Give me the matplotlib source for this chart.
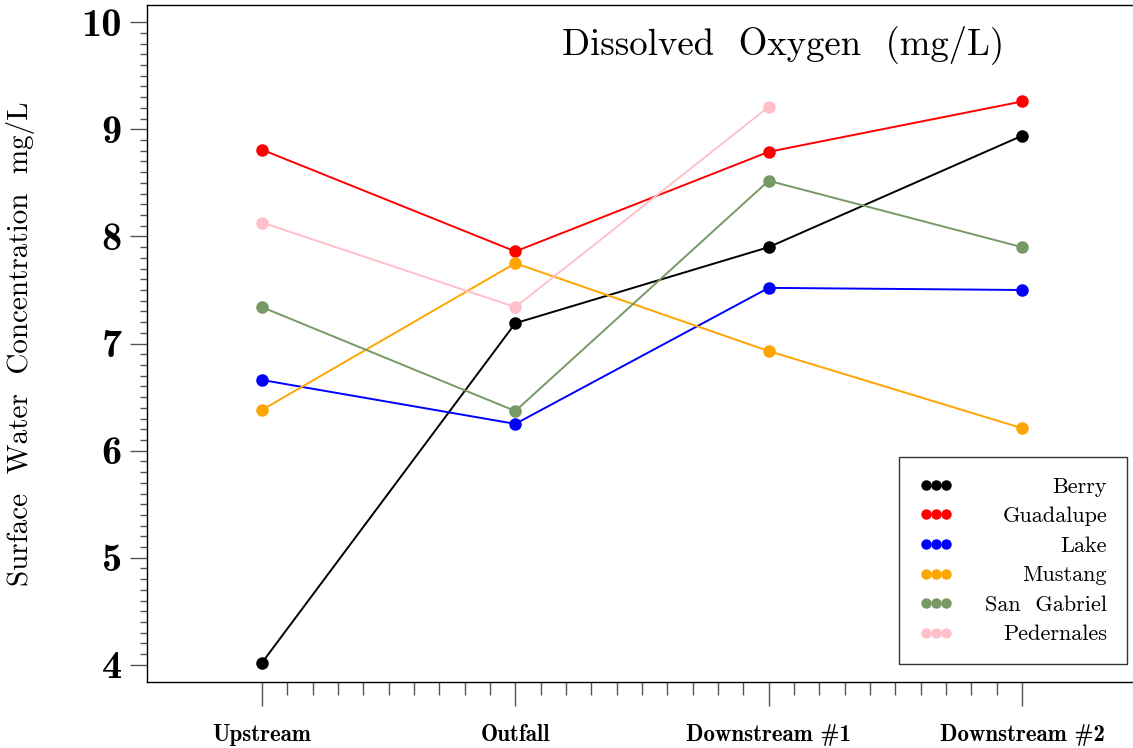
import numpy as np
import matplotlib.pyplot as plt
from matplotlib.lines import Line2D

plt.rcParams['axes.formatter.use_mathtext'] = True

# sampling locations along the stream
sites = ['Upstream', 'Outfall', 'Downstream #1', 'Downstream #2']
x = np.arange(1, len(sites) + 1)

# dissolved oxygen, mg/L
berry = [4.02, 7.19, 7.90, 8.94]
guadalupe = [8.81, 7.86, 8.79, 9.26]
lake = [6.66, 6.25, 7.52, 7.50]
mustang = [6.38, 7.75, 6.93, 6.21]
san_gabriel = [7.34, 6.37, 8.52, 7.90]
pedernales = [8.13, 7.34, 9.21, np.nan]

names = ['Berry', 'Guadalupe', 'Lake', 'Mustang', 'San  Gabriel', 'Pedernales']
series = [berry, guadalupe, lake, mustang, san_gabriel, pedernales]
colors = ['black', 'red', 'blue', 'orange', '#779966', 'pink']

yticks = [4, 5, 6, 7, 8, 9, 10]

fig = plt.figure(figsize=(11.33, 7.48), dpi=100)
ax = fig.add_axes([0.1297, 0.0882, 0.8703, 0.905])

for vals, c in zip(series, colors):
    ax.plot(x, vals, color=c, lw=1.4, marker='o', ms=8, zorder=3)

ax.set_xlim(0.546, 4.438)
ax.set_ylim(3.84, 10.16)

ax.set_yticks(yticks, [str(v) for v in yticks], fontfamily='cmb10', fontsize=29)
ax.set_yticks(np.arange(4, 10.01, 0.1), minor=True)
ax.set_xticks(x, sites, fontfamily='cmb10', fontsize=16.5)
ax.set_xticks(np.arange(1, 4.01, 0.1), minor=True)

ax.tick_params(axis='y', which='major', length=12, width=1, color='#555555', pad=6)
ax.tick_params(axis='y', which='minor', length=5, width=1, color='#555555')
ax.tick_params(axis='x', which='major', length=17, width=1, color='#555555', pad=13)
ax.tick_params(axis='x', which='minor', length=9, width=1, color='#555555')

ax.spines['right'].set_visible(False)
for s in ['left', 'bottom', 'top']:
    ax.spines[s].set_linewidth(1.0)

ax.set_ylabel('Surface  Water  Concentration  mg/L', fontfamily='cmr10', fontsize=21)
ax.yaxis.set_label_coords(-0.1136, 0.5)

ax.text(0.645, 0.941, 'Dissolved  Oxygen  (mg/L)', transform=ax.transAxes,
        ha='center', va='center', fontfamily='cmr10', fontsize=26.5)

handles = [Line2D([], [], ls='none', marker='o', ms=6.5, color=c) for c in colors]
leg = ax.legend(handles, names, loc='lower right', bbox_to_anchor=(0.994, 0.026),
                borderaxespad=0, numpoints=3, handlelength=1.5, handletextpad=1.0,
                labelspacing=0.45, borderpad=0.9, fancybox=False,
                prop={'family': 'cmr10', 'size': 16})
leg.get_frame().set_edgecolor('black')
leg.get_frame().set_linewidth(1.0)
# push the labels to the right edge of the box
for col in leg._legend_handle_box.get_children():
    for item in col.get_children():
        item.mode = 'expand'
        item.width = 188

fig.savefig('out.png', dpi=100)
